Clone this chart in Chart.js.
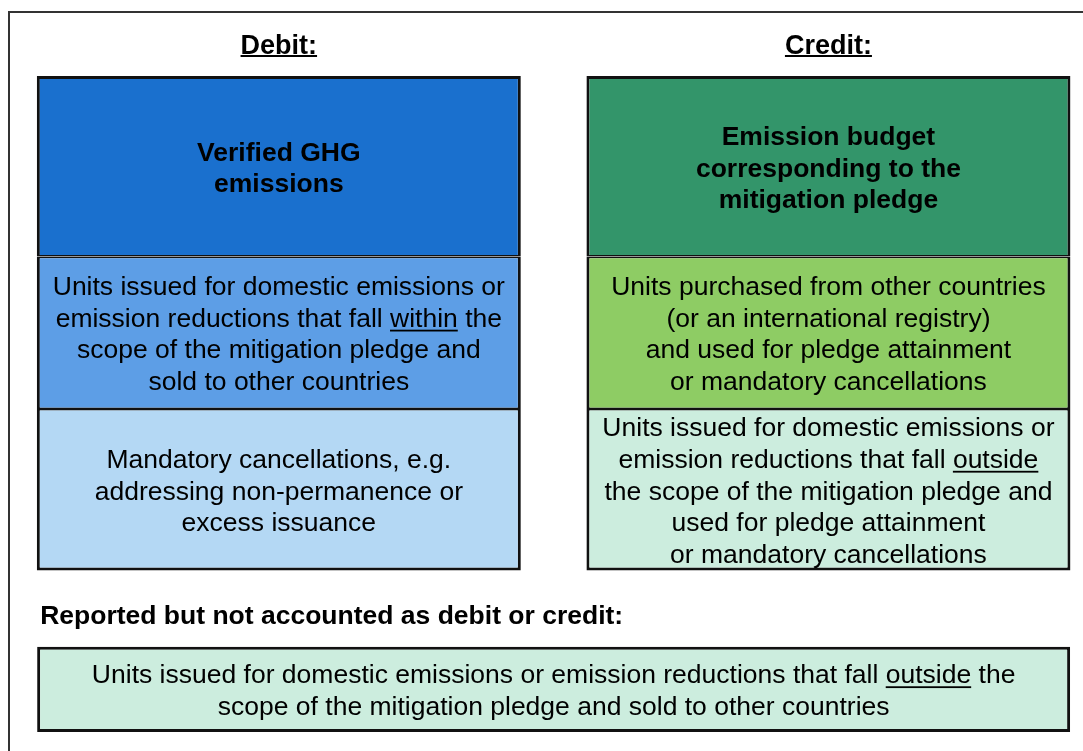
<!DOCTYPE html>
<html>
<head>
<meta charset="utf-8">
<script src="https://cdn.jsdelivr.net/npm/chart.js@4/dist/chart.umd.min.js"></script>
<style>
  html, body { margin: 0; padding: 0; background: #fff; overflow: hidden; }
  #frame {
    position: absolute; left: 8px; top: 11px; width: 1200px; height: 900px;
    border-left: 2px solid #333; border-top: 2px solid #333;
  }
  #myChart { position: absolute; left: 0; top: 0; }
</style>
</head>
<body>
<div id="frame"></div>
<canvas id="myChart" width="1120" height="751"></canvas>
<script>
// columns of the ledger
const columns = ['Debit:', 'Credit:'];

// vertical extent of each row of boxes (diagram units, top = 0)
const rowSpans = [[0, 18.0], [18.0, 33.2], [33.2, 49.3]];
const reportedSpan = [56.9, 65.4];
const diagramHeight = 65.4;

const debitColors = ['#1a70ce', '#5d9ee6', '#b4d8f4'];
const creditColors = ['#33956a', '#8ecc64', '#ccedde'];
const reportedColor = '#ccedde';

// text in the boxes, _word_ = underlined
const debitTexts = [
    ['Verified GHG', 'emissions'],
    ['Units issued for domestic emissions or', 'emission reductions that fall _within_ the', 'scope of the mitigation pledge and', 'sold to other countries'],
    ['Mandatory cancellations, e.g.', 'addressing non-permanence or', 'excess issuance']
];
const creditTexts = [
    ['Emission budget', 'corresponding to the', 'mitigation pledge'],
    ['Units purchased from other countries', '(or an international registry)', 'and used for pledge attainment', 'or mandatory cancellations'],
    ['Units issued for domestic emissions or', 'emission reductions that fall _outside_', 'the scope of the mitigation pledge and', 'used for pledge attainment', 'or mandatory cancellations']
];
const reportedCaption = 'Reported but not accounted as debit or credit:';
const reportedTexts = [
    'Units issued for domestic emissions or emission reductions that fall _outside_ the',
    'scope of the mitigation pledge and sold to other countries'
];

const fontFamily = "'Liberation Sans', Arial, sans-serif";
const textColor = '#000';
const edge = '#111';

function drawLines(ctx, lines, bar, bold) {
    const top = Math.min(bar.y, bar.base);
    const bottom = Math.max(bar.y, bar.base);
    const cy = (top + bottom) / 2;
    const lineH = 31.7;
    const cap = bold ? 20.5 : 19.5;
    ctx.font = (bold ? 'bold ' : '') + '26.5px ' + fontFamily;
    ctx.textAlign = 'left';
    ctx.textBaseline = 'alphabetic';
    lines.forEach((line, i) => {
        const y = cy - (lines.length - 1) * lineH / 2 + i * lineH + cap / 2;
        const parts = line.split('_');
        let x = bar.x - ctx.measureText(parts.join('')).width / 2;
        parts.forEach((p, k) => {
            ctx.fillText(p, x, y);
            const w = ctx.measureText(p).width;
            if (k % 2 === 1) ctx.fillRect(x, y + 3, w, 1.8);
            x += w;
        });
    });
}

const boxText = {
    id: 'boxText',
    afterDatasetsDraw(chart) {
        const ctx = chart.ctx;
        ctx.save();
        ctx.fillStyle = textColor;

        rowSpans.forEach((_, r) => {
            chart.getDatasetMeta(r).data.forEach((bar, c) => {
                const lines = c === 0 ? debitTexts[r] : creditTexts[r];
                drawLines(ctx, lines, bar, r === 0);
            });
        });

        const rep = chart.getDatasetMeta(rowSpans.length).data[0];
        drawLines(ctx, reportedTexts, rep, false);

        // caption above the reported box
        ctx.font = 'bold 26.5px ' + fontFamily;
        ctx.textAlign = 'left';
        ctx.textBaseline = 'alphabetic';
        ctx.fillText(reportedCaption, rep.x - rep.width / 2 + 3, Math.min(rep.y, rep.base) - 22.7);

        // underline the column headers
        const xs = chart.scales.x;
        ctx.font = 'bold 27px ' + fontFamily;
        xs.ticks.forEach((t, i) => {
            const px = xs.getPixelForTick(i);
            const w = ctx.measureText(t.label).width;
            ctx.fillRect(px - w / 2, chart.chartArea.top - 21, w, 2);
        });
        ctx.restore();
    }
};

const outer = 3, inner = 1.6;
const rowBorders = [
    {top: outer, left: outer, right: outer, bottom: inner},
    {top: inner, left: outer, right: outer, bottom: inner},
    {top: inner, left: outer, right: outer, bottom: outer}
];

const datasets = rowSpans.map((span, r) => ({
    label: 'row ' + (r + 1),
    data: columns.map(() => span),
    backgroundColor: [debitColors[r], creditColors[r]],
    borderColor: edge,
    borderWidth: rowBorders[r],
    borderSkipped: false,
    grouped: false,
    categoryPercentage: 1,
    barPercentage: 0.8806,
    xAxisID: 'x'
}));

datasets.push({
    label: 'reported',
    data: [reportedSpan],
    backgroundColor: reportedColor,
    borderColor: edge,
    borderWidth: outer,
    borderSkipped: false,
    grouped: false,
    categoryPercentage: 1,
    barPercentage: 0.9397,
    xAxisID: 'x2'
});

const ctx = document.getElementById('myChart').getContext('2d');
new Chart(ctx, {
    type: 'bar',
    data: { labels: columns, datasets: datasets },
    plugins: [boxText],
    options: {
        responsive: false,
        animation: false,
        devicePixelRatio: 1,
        layout: { padding: { left: 4, right: 16.75, top: 17.6, bottom: 19 } },
        plugins: {
            legend: { display: false },
            tooltip: { enabled: false }
        },
        scales: {
            x: {
                position: 'top',
                offset: true,
                grid: { display: false, drawTicks: false },
                border: { display: false },
                ticks: {
                    color: textColor,
                    padding: 13,
                    font: { family: fontFamily, size: 27, weight: 'bold' }
                }
            },
            x2: {
                type: 'category',
                labels: ['reported'],
                display: false,
                offset: true
            },
            y: {
                display: false,
                reverse: true,
                min: 0,
                max: diagramHeight
            }
        }
    }
});
</script>
</body>
</html>
